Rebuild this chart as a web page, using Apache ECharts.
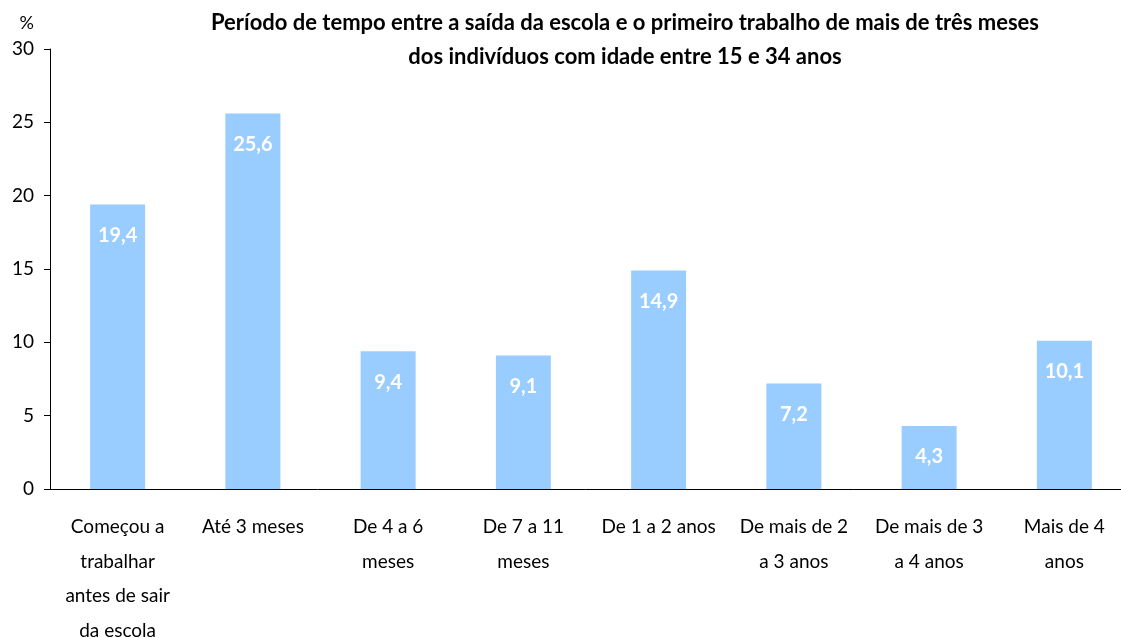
<!DOCTYPE html>
<html>
<head>
<meta charset="utf-8">
<script src="https://cdn.jsdelivr.net/npm/echarts@6/dist/echarts.min.js"></script>
<style>
  html, body { margin: 0; padding: 0; background: #fff; }
  #chart { width: 1121px; height: 638px; }
</style>
</head>
<body>
<div id="chart"></div>
<script>
// categorias (eixo x)
const categories = [
  'Começou a\ntrabalhar\nantes de sair\nda escola',
  'Até 3 meses',
  'De 4 a 6\nmeses',
  'De 7 a 11\nmeses',
  'De 1 a 2 anos',
  'De mais de 2\na 3 anos',
  'De mais de 3\na 4 anos',
  'Mais de 4\nanos'
]
// percentagens
const values = [19.4, 25.6, 9.4, 9.1, 14.9, 7.2, 4.3, 10.1]
const yTicks = [0, 5, 10, 15, 20, 25, 30]

const font = 'Lato, "Open Sans", sans-serif'
let myChart = echarts.init(document.getElementById('chart'))
myChart.setOption({
  animation: false,
  title: {
    text: 'Período de tempo entre a saída da escola e o primeiro trabalho de mais de três meses\ndos indivíduos com idade entre 15 e 34 anos',
    left: 620,
    top: 1,
    textAlign: 'center',
    textStyle: {
      fontFamily: font,
      fontWeight: 'bold',
      fontSize: 22,
      lineHeight: 34,
      color: '#000'
    }
  },
  grid: {
    left: 50,
    top: 49,
    width: 1082,
    height: 440,
    outerBoundsMode: 'none'
  },
  xAxis: {
    type: 'category',
    data: categories,
    axisLine: { lineStyle: { color: '#000', width: 1 } },
    axisTick: { length: 6, lineStyle: { color: '#000' } },
    axisLabel: {
      interval: 0,
      margin: 21,
      color: '#000',
      fontFamily: font,
      fontSize: 19,
      lineHeight: 34.5
    }
  },
  yAxis: {
    type: 'value',
    min: yTicks[0],
    max: yTicks[yTicks.length - 1],
    interval: 5,
    name: '%',
    nameLocation: 'end',
    nameGap: 17,
    nameTextStyle: { color: '#000', fontFamily: font, fontSize: 18, align: 'right', padding: [0, 16, 0, 0] },
    axisLine: { show: true, lineStyle: { color: '#000', width: 1 } },
    axisTick: { show: true, length: 6, lineStyle: { color: '#000' } },
    splitLine: { show: false },
    axisLabel: {
      color: '#000',
      fontFamily: font,
      fontSize: 19,
      margin: 16
    }
  },
  series: [
    {
      type: 'bar',
      data: values,
      barWidth: 55,
      itemStyle: { color: '#99CCFF' },
      label: {
        show: true,
        position: 'insideTop',
        distance: 21,
        color: '#fff',
        fontFamily: font,
        fontWeight: 'bold',
        fontSize: 20,
        formatter: p => String(p.value).replace('.', ',')
      }
    }
  ]
})
</script>
</body>
</html>
